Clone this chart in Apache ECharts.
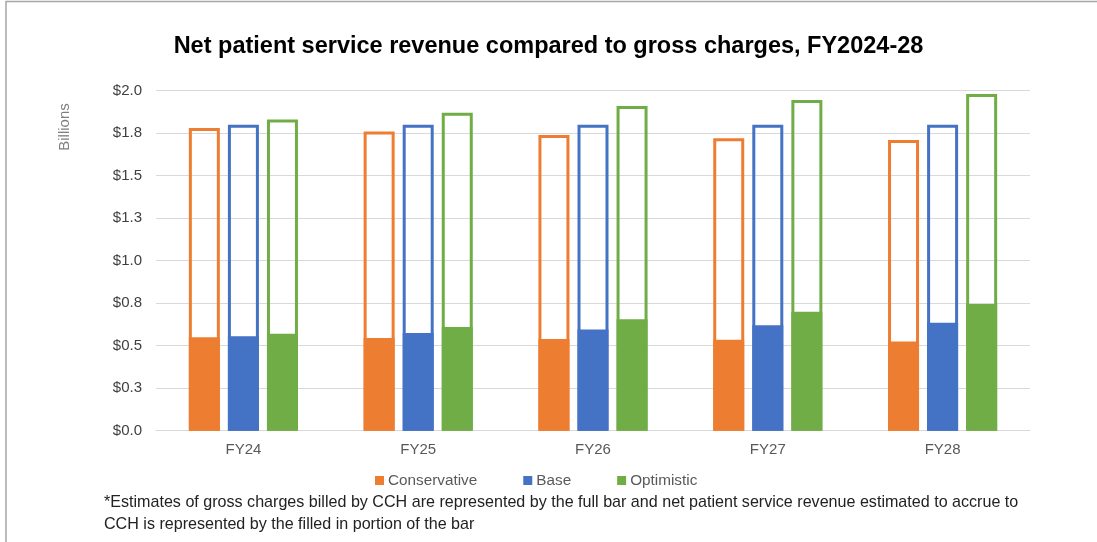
<!doctype html>
<html>
<head>
    <meta charset="utf-8">
    <title>Net patient service revenue</title>
    <style>
        html, body { margin: 0; padding: 0; background: #fff; }
        #chart { width: 1097px; height: 542px; }
    </style>
</head>
<body>
<div id="chart"></div>
<script src="https://cdn.jsdelivr.net/npm/echarts@6/dist/echarts.min.js"></script>
<script>
    // categories and values (billions)
    var years = ['FY24', 'FY25', 'FY26', 'FY27', 'FY28'];
    // gross charges = full (outlined) bar
    var grossConservative = [1.78, 1.76, 1.74, 1.72, 1.71];
    var grossBase = [1.80, 1.80, 1.80, 1.80, 1.80];
    var grossOptimistic = [1.83, 1.87, 1.91, 1.945, 1.98];
    // net patient service revenue = filled portion
    var netConservative = [0.55, 0.545, 0.54, 0.535, 0.525];
    var netBase = [0.555, 0.575, 0.595, 0.62, 0.635];
    var netOptimistic = [0.57, 0.61, 0.655, 0.70, 0.745];

    var colors = ['#ED7D31', '#4472C4', '#70AD47'];
    var names = ['Conservative', 'Base', 'Optimistic'];
    var font = 'Liberation Sans, Arial, sans-serif';

    var myChart = echarts.init(document.getElementById('chart'));

    function outline(name, data, color) {
        return {
            name: name + ' gross',
            type: 'bar',
            xAxisIndex: 0,
            barWidth: 31,
            barGap: '26%',
            data: data,
            itemStyle: { color: 'rgba(0,0,0,0)', borderColor: color, borderWidth: 3 },
            silent: true
        };
    }
    function filled(name, data, color) {
        return {
            name: name,
            type: 'bar',
            xAxisIndex: 1,
            barWidth: 31,
            barGap: '26%',
            data: data,
            itemStyle: { color: color, borderColor: color, borderWidth: 3 }
        };
    }

    var option = {
        animation: false,
        color: colors,
        title: {
            text: 'Net patient service revenue compared to gross charges, FY2024-28',
            left: 'center',
            top: 30,
            textStyle: { fontFamily: font, fontSize: 23.5, fontWeight: 'bold', color: '#000' }
        },
        legend: {
            data: names,
            top: 473,
            left: 375,
            padding: 0,
            icon: 'rect',
            itemWidth: 7,
            itemHeight: 7,
            itemGap: 46,
            textStyle: { fontFamily: font, fontSize: 15.3, color: '#595959' }
        },
        grid: { left: 156, right: 67, top: 90.7, bottom: 111.3, containLabel: false },
        xAxis: [
            {
                type: 'category',
                data: years,
                axisLine: { lineStyle: { color: '#d9d9d9', width: 1 } },
                axisTick: { show: false },
                axisLabel: { fontFamily: font, fontSize: 15, color: '#595959', margin: 12 }
            },
            {
                type: 'category',
                data: years,
                show: false
            }
        ],
        yAxis: {
            type: 'value',
            min: 0,
            max: 2,
            interval: 0.25,
            axisLine: { show: false },
            axisTick: { show: false },
            splitLine: { lineStyle: { color: '#d9d9d9', width: 1 } },
            axisLabel: {
                fontFamily: font, fontSize: 15, color: '#404040', margin: 14,
                formatter: function (v) { return '$' + v.toFixed(1); }
            }
        },
        graphic: [
            {
                type: 'rect',
                shape: { x: 6, y: 1.5, width: 1200, height: 700 },
                style: { fill: 'none', stroke: '#a6a6a6', lineWidth: 1.5 },
                silent: true
            },
            {
                type: 'text',
                x: 65,
                y: 127,
                rotation: Math.PI / 2,
                style: {
                    text: 'Billions', fontFamily: font, fontSize: 15, fill: '#7f7f7f',
                    align: 'center', verticalAlign: 'middle'
                }
            },
            {
                type: 'text',
                x: 104,
                y: 492,
                style: {
                    text: '*Estimates of gross charges billed by CCH are represented by the full bar and net patient service revenue estimated to accrue to\nCCH is represented by the filled in portion of the bar',
                    fontFamily: font, fontSize: 16.1, fill: '#222', lineHeight: 22
                }
            }
        ],
        series: [
            outline(names[0], grossConservative, colors[0]),
            outline(names[1], grossBase, colors[1]),
            outline(names[2], grossOptimistic, colors[2]),
            filled(names[0], netConservative, colors[0]),
            filled(names[1], netBase, colors[1]),
            filled(names[2], netOptimistic, colors[2])
        ]
    };
    myChart.setOption(option);
</script>
</body>
</html>
